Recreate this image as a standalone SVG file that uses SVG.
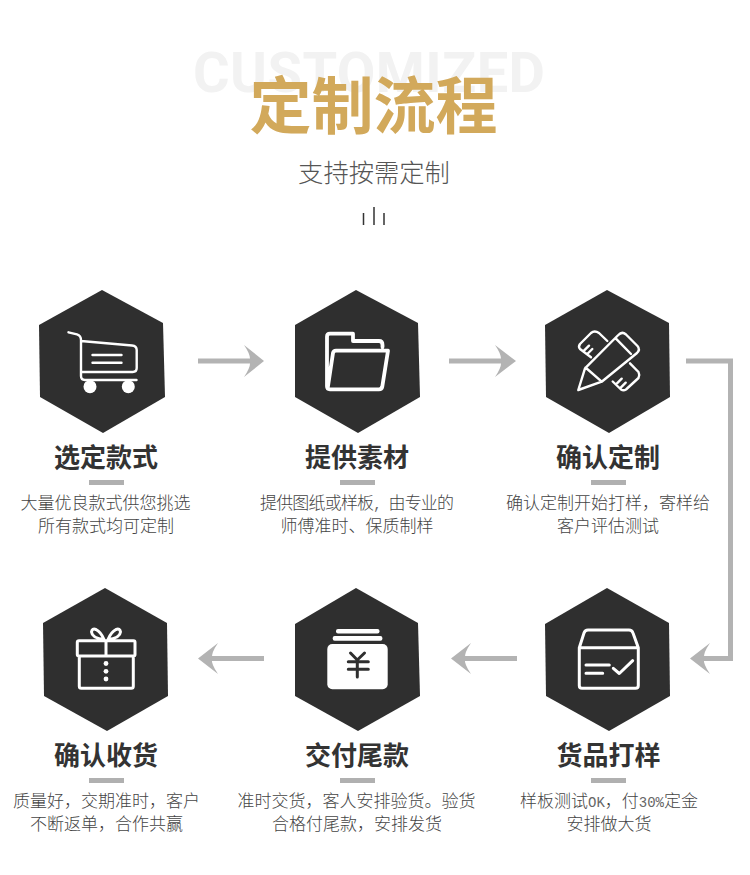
<svg xmlns="http://www.w3.org/2000/svg" width="750" height="875" viewBox="0 0 750 875">
<style>
text{font-family:"Noto Sans CJK SC","Noto Sans",sans-serif;text-anchor:middle}
.hex{fill:#2f2f2f}
.ic{fill:none;stroke:#fff;stroke-width:2.4;stroke-linecap:round;stroke-linejoin:round}
.ic3{fill:none;stroke:#fff;stroke-width:3.8;stroke-linecap:round;stroke-linejoin:round}
.h{font-size:26px;font-weight:700;fill:#333}
.b{font-size:17px;font-weight:300;fill:#444}
.m{font-family:"Liberation Mono",monospace;font-size:14px;fill:#666}
.bar{fill:#b0b0b0}
.ah{fill:#b3b3b3}
.sh{fill:none;stroke:#b3b3b3;stroke-width:5}
</style>
<rect width="750" height="875" fill="#fff"/>
<g id="header">
<text x="369" y="92" font-size="56" font-weight="700" fill="#f2f2f2" style="font-family:Roboto,sans-serif" textLength="352" lengthAdjust="spacing">CUSTOMIZED</text>
<text x="373.500" y="129" font-size="62" font-weight="700" fill="#d2a95b">定制流程</text>
<text x="374" y="182" font-size="25.300" font-weight="300" fill="#555">支持按需定制</text>
<path d="M363.500 213V225M374 207V225M384 213V225" stroke="#333" stroke-width="1.500" fill="none"/>
</g>
<g id="connectors">
<path class="sh" d="M198 361H254"/>
<path class="ah" d="M264 361L244 345Q251 355 250 361Q251 367 244 377Z"/>
<path class="sh" d="M449 361H505"/>
<path class="ah" d="M516 361L495 345Q502 355 501 361Q502 367 495 377Z"/>
<path class="sh" d="M686 361H730.500V658.500H700"/>
<path class="ah" d="M690 658.500L710 643Q703 653 704 658.500Q703 664 710 674Z"/>
<path class="sh" d="M517 658.500H462"/>
<path class="ah" d="M451 658.500L471 643Q464 653 465 658.500Q464 664 471 674Z"/>
<path class="sh" d="M264 658.500H209"/>
<path class="ah" d="M198 658.500L218 643Q211 653 212 658.500Q211 664 218 674Z"/>
</g>
<g id="node1">
<polygon class="hex" points="102,290 163,323 165,397 103,433 40,397 39,325"/>
<path class="ic" d="M68.500 332.300L77 334.300Q81 335.500 81 340V376Q81 380 85 380H136.500M81 341L132 345.500Q136.700 346 136.700 350V368Q136.700 372 132.700 372H81M92.500 355H121.500M92.500 362.700H121.500"/>
<circle cx="90" cy="386.700" r="6.500" fill="#fff"/>
<circle cx="128.300" cy="386.700" r="6.500" fill="#fff"/>
<text class="h" x="106" y="467">选定款式</text>
<rect class="bar" x="89" y="480" width="35" height="5"/>
<text class="b" x="105.500" y="509">大量优良款式供您挑选</text>
<text class="b" x="106" y="532">所有款式均可定制</text>
</g>
<g id="node2">
<polygon class="hex" points="356,290 418,323 420,397 358,433 295,397 295,325"/>
<path class="ic3" d="M382.500 347V345Q382.500 341 379 341H353V333.700H330Q327 333.700 327 336.700V386.300Q327 389.300 330 389.300H379Q381.700 389.300 382.300 386.500L388 350.700H336Q333.500 350.700 333 353L327.700 388"/>
<text class="h" x="357" y="467">提供素材</text>
<rect class="bar" x="340" y="480" width="35" height="5"/>
<text class="b" x="357" y="509" textLength="194" lengthAdjust="spacing">提供图纸或样板<tspan class="m">, </tspan>由专业的</text>
<text class="b" x="357" y="532">师傅准时、保质制样</text>
</g>
<g id="node3">
<polygon class="hex" points="607,290 669,323 670,397 609,433 546,397 545,325"/>
<path class="ic" d="M578.300 390L585 368.300L618.300 335Q622 331 626 334.500L637.500 346Q640.500 349.500 637 353L601.700 381.700ZM585.500 367.500L601.700 381.700M615.700 338.300L631 354M607.300 341L599 333Q594.500 330 591 333L580 344Q578 347 580 349L591 357.300M584 350.700L589 345.700M587.300 354L592.300 349M630 363.300L638.500 372Q640 375 638.500 378L626 389.500Q623.500 391 621 389.500L612.700 381.500M616 384.300L621.700 378.700M620 388.300L625.700 382.700"/>
<text class="h" x="608" y="467">确认定制</text>
<rect class="bar" x="591" y="480" width="35" height="5"/>
<text class="b" x="608" y="509">确认定制开始打样，寄样给</text>
<text class="b" x="608" y="532">客户评估测试</text>
</g>
<g id="node4">
<polygon class="hex" points="607,588 669,623 670,696 609,731 546,696 545,624"/>
<path class="ic3" style="stroke-width:3" d="M579.300 647.700L584 633Q585 630 588 630H629Q632 630 633 633L638.300 647.700V685.500Q638.300 688.300 635.500 688.300H582Q579.300 688.300 579.300 685.500ZM579.300 647.700H638.300M586 665H609.300M586 673.300H602.700M613.300 668.300L619.300 673.500L632.700 660.700"/>
<text class="h" x="608.500" y="765">货品打样</text>
<rect class="bar" x="591" y="778" width="35" height="5"/>
<text class="b" x="609" y="807">样板测试<tspan class="m">OK</tspan>，付<tspan class="m">30%</tspan>定金</text>
<text class="b" x="609" y="830">安排做大货</text>
</g>
<g id="node5">
<polygon class="hex" points="356,588 418,623 420,696 358,731 295,696 295,624"/>
<rect x="336" y="629" width="43.500" height="4.500" rx="2" fill="#fff"/>
<rect x="332.700" y="636" width="49.700" height="4.700" rx="2" fill="#fff"/>
<rect x="327.300" y="644" width="60.400" height="45.300" rx="5" fill="#fff"/>
<path d="M350.500 653L357.300 660L364.500 653M357.300 660V677M348.300 661.700H368.300M348.300 669.300H368.300" fill="none" stroke="#2f2f2f" stroke-width="3" stroke-linecap="round"/>
<text class="h" x="357" y="765">交付尾款</text>
<rect class="bar" x="340" y="778" width="35" height="5"/>
<text class="b" x="356.500" y="807">准时交货，客人安排验货。验货</text>
<text class="b" x="357" y="830">合格付尾款，安排发货</text>
</g>
<g id="node6">
<polygon class="hex" points="105,588 167,623 168,696 107,731 44,696 43,623"/>
<path class="ic3" style="stroke-width:3" d="M79 640.700H133.500Q135 640.700 135 642.200V654.500Q135 656 133.500 656H79Q77.300 656 77.300 654.500V642.200Q77.300 640.700 79 640.700ZM79.300 656V686.300Q79.300 688.300 81.300 688.300H131.300Q133.300 688.300 133.300 686.300V656M106 640.700V656M104 639.500Q92 638 91.500 632Q92 628 96 629.500Q101 632 104 639.500ZM108 639.500Q120 638 120.500 632Q120 628 116 629.500Q111 632 108 639.500Z"/>
<circle cx="106" cy="663.500" r="2.400" fill="#fff"/>
<circle cx="106" cy="671.300" r="2.400" fill="#fff"/>
<circle cx="106" cy="679" r="2.400" fill="#fff"/>
<text class="h" x="106" y="765">确认收货</text>
<rect class="bar" x="89" y="778" width="35" height="5"/>
<text class="b" x="106.500" y="807">质量好，交期准时，客户</text>
<text class="b" x="106.500" y="830">不断返单，合作共赢</text>
</g>
</svg>
